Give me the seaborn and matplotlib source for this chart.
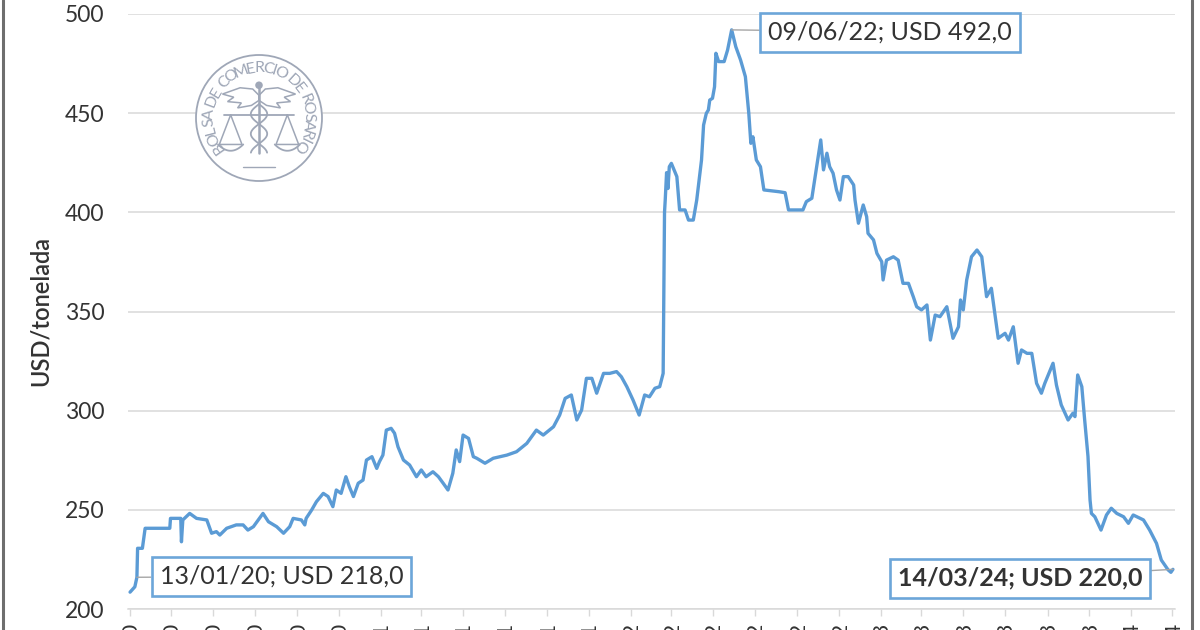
import numpy as np
import pandas as pd
import matplotlib
matplotlib.use("Agg")
import matplotlib.pyplot as plt
import matplotlib.dates as mdates
from matplotlib.patches import Circle, Polygon
from matplotlib.lines import Line2D
import seaborn as sns

# ---------------- data ----------------
dates = [
    "2020-01-13", "2020-01-20", "2020-01-23", "2020-01-24", "2020-01-31", "2020-02-04",
    "2020-03-11", "2020-03-12", "2020-03-27", "2020-03-28", "2020-03-30", "2020-04-09",
    "2020-04-19", "2020-05-04", "2020-05-11", "2020-05-18", "2020-05-23", "2020-06-02",
    "2020-06-16", "2020-06-26", "2020-07-03", "2020-07-11", "2020-07-25", "2020-08-02",
    "2020-08-14", "2020-08-24", "2020-09-02", "2020-09-07", "2020-09-19", "2020-09-24",
    "2020-09-26", "2020-10-04", "2020-10-11", "2020-10-21", "2020-10-28", "2020-11-04",
    "2020-11-09", "2020-11-16", "2020-11-23", "2020-11-28", "2020-12-04", "2020-12-11",
    "2020-12-18", "2020-12-23", "2020-12-31",
    "2021-01-07", "2021-01-11", "2021-01-16", "2021-01-21", "2021-01-28", "2021-02-02",
    "2021-02-07", "2021-02-15", "2021-02-24", "2021-03-06", "2021-03-13", "2021-03-20",
    "2021-03-30", "2021-04-07", "2021-04-14", "2021-04-21", "2021-04-28", "2021-05-03",
    "2021-05-08", "2021-05-13", "2021-05-21", "2021-05-28", "2021-06-02", "2021-06-14",
    "2021-06-26", "2021-07-16", "2021-07-30", "2021-08-14", "2021-08-28", "2021-09-07",
    "2021-09-22", "2021-10-01", "2021-10-09", "2021-10-18", "2021-10-26", "2021-11-02",
    "2021-11-09", "2021-11-17", "2021-11-24", "2021-12-04", "2021-12-13", "2021-12-23",
    "2021-12-30",
    "2022-01-07", "2022-01-16", "2022-01-25", "2022-02-02", "2022-02-09", "2022-02-17",
    "2022-02-24", "2022-03-01", "2022-03-03", "2022-03-04", "2022-03-06", "2022-03-08",
    "2022-03-10", "2022-03-13", "2022-03-21", "2022-03-25", "2022-04-02", "2022-04-07",
    "2022-04-14", "2022-04-19", "2022-04-26", "2022-04-29", "2022-05-03", "2022-05-06",
    "2022-05-08", "2022-05-12", "2022-05-15", "2022-05-17", "2022-05-21", "2022-05-29",
    "2022-06-03", "2022-06-09", "2022-06-15", "2022-06-22", "2022-06-29", "2022-07-04",
    "2022-07-07", "2022-07-10", "2022-07-15", "2022-07-21", "2022-07-26", "2022-08-17",
    "2022-08-26", "2022-08-31", "2022-09-21", "2022-09-26", "2022-10-04", "2022-10-11",
    "2022-10-17", "2022-10-21", "2022-10-26", "2022-10-30", "2022-11-04", "2022-11-09",
    "2022-11-14", "2022-11-19", "2022-11-26", "2022-12-04", "2022-12-06", "2022-12-11",
    "2022-12-18", "2022-12-23", "2022-12-25",
    "2023-01-02", "2023-01-07", "2023-01-14", "2023-01-16", "2023-01-21", "2023-01-31",
    "2023-02-07", "2023-02-14", "2023-02-22", "2023-03-01", "2023-03-06", "2023-03-13",
    "2023-03-21", "2023-03-26", "2023-04-02", "2023-04-09", "2023-04-19", "2023-04-28",
    "2023-05-06", "2023-05-09", "2023-05-13", "2023-05-18", "2023-05-25", "2023-06-02",
    "2023-06-09", "2023-06-16", "2023-06-23", "2023-06-26", "2023-07-03", "2023-07-13",
    "2023-07-18", "2023-07-25", "2023-08-01", "2023-08-06", "2023-08-14", "2023-08-21",
    "2023-08-28", "2023-09-04", "2023-09-09", "2023-09-14", "2023-09-21", "2023-09-26",
    "2023-10-03", "2023-10-13", "2023-10-20", "2023-10-23", "2023-10-27", "2023-11-02",
    "2023-11-06", "2023-11-11", "2023-11-14", "2023-11-16", "2023-11-21", "2023-11-30",
    "2023-12-08", "2023-12-15", "2023-12-23",
    "2024-01-02", "2024-01-09", "2024-01-16", "2024-01-31", "2024-02-09", "2024-02-19",
    "2024-02-26", "2024-03-07", "2024-03-11", "2024-03-14",
]
prices = [
    208.5, 211.2, 216.0, 230.6, 230.6, 240.7,
    240.7, 245.7, 245.7, 233.9, 244.9, 248.2,
    245.7, 244.9, 238.2, 239.0, 237.3, 240.7,
    242.4, 242.4, 239.8, 241.5, 248.2, 244.0,
    241.5, 238.2, 241.5, 245.7, 244.9, 242.4,
    245.7, 249.9, 254.1, 258.3, 256.7, 251.6,
    260.0, 258.3, 266.7, 261.7, 256.7, 263.4,
    265.0, 275.1, 276.8,
    270.9, 274.3, 277.6, 290.2, 291.1, 288.6,
    281.8, 275.1, 272.6, 266.7, 270.1, 266.7,
    269.2, 266.7, 263.4, 260.0, 268.4, 280.2,
    274.3, 287.7, 286.0, 276.8, 276.0, 273.5,
    276.0, 277.6, 279.3, 283.5, 290.2, 287.7,
    291.9, 297.8, 306.2, 307.9, 295.3, 300.3,
    316.3, 316.3, 308.8, 318.8, 318.8, 319.7,
    317.1,
    312.1, 305.4, 297.8, 307.9, 307.0, 311.3,
    312.1, 318.8, 400.0, 406.0, 420.0, 412.0,
    423.0, 424.7, 418.0, 401.2, 401.2, 396.1,
    396.1, 406.2, 426.4, 444.0, 449.9, 451.6,
    456.6, 457.5, 463.3, 480.2, 476.0, 476.0,
    481.8, 492.0, 483.5, 476.8, 468.4, 449.9,
    434.8, 438.1, 426.4, 423.0, 411.3, 410.4,
    409.9, 401.2, 401.2, 405.4, 407.1, 423.0,
    436.5, 421.4, 429.8, 423.0, 419.7, 411.3,
    406.2, 418.0, 418.0, 413.8, 406.2, 394.5,
    403.7, 397.8, 389.4,
    386.1, 379.3, 375.1, 365.9, 375.9, 377.6,
    375.9, 364.2, 364.2, 357.5, 352.4, 350.8,
    353.3, 335.6, 348.2, 347.4, 352.4, 336.5,
    342.3, 355.8, 350.8, 365.9, 377.6, 381.0,
    377.6, 357.5, 361.7, 354.1, 336.5, 339.0,
    335.6, 342.3, 323.9, 330.6, 328.9, 328.9,
    313.8, 308.8, 313.8, 318.0, 323.9, 312.9,
    302.9, 295.3, 298.7, 297.0, 318.0, 312.1,
    296.0, 277.0, 255.0, 248.2, 246.5, 239.8,
    247.4, 250.8, 248.2,
    246.5, 243.2, 247.4, 244.9, 239.8, 233.1,
    224.7, 219.7, 218.5, 220.0,
]
y_ticks = [200, 250, 300, 350, 400, 450, 500]
tick_dates = pd.date_range("2020-01-13", "2024-03-13", freq=pd.DateOffset(months=2))
ann_dates = ["2020-01-23", "2022-06-09", "2024-03-14"]
ann_values = [216.0, 492.0, 220.0]
ann_labels = ["13/01/20; USD 218,0", "09/06/22; USD 492,0", "14/03/24; USD 220,0"]
ann_bold = [False, False, True]
ann_pos_px = [(281.5, 53.5), (890, 598), (1020, 52)]   # box centres in figure pixels
y_label = "USD/tonelada"
logo_text = "BOLSA DE COMERCIO DE ROSARIO"

# ---------------- styling ----------------
sns.set_theme(style="white")
plt.rcParams['font.family'] = ['Lato', 'DejaVu Sans']

LINE_C = "#5B9BD5"
BOX_C = "#6CA6D9"
TXT_C = "#333333"
GRID_C = "#D9D9D9"
LOGO_C = "#9FA7B7"

W, H = 1200, 630
fig = plt.figure(figsize=(W / 100, H / 100), dpi=100)
fig.patch.set_facecolor("white")
ax = fig.add_axes([128 / W, 1 - 609 / H, (1175 - 128) / W, (609 - 14) / H])

df = pd.DataFrame({"fecha": pd.to_datetime(dates), "precio": prices})
sns.lineplot(data=df, x="fecha", y="precio", ax=ax, color=LINE_C,
             linewidth=2.4, zorder=3)

ax.set_ylim(200, 500)
ax.set_yticks(y_ticks)
ax.set_xlim(pd.Timestamp("2020-01-10"), pd.Timestamp("2024-03-17"))
ax.grid(axis="y", color=GRID_C, linewidth=1.1)
ax.grid(axis="x", visible=False)
for s in ["top", "right", "left"]:
    ax.spines[s].set_visible(False)
ax.spines["bottom"].set_color(GRID_C)
ax.spines["bottom"].set_linewidth(1.1)

ax.set_xticks(tick_dates)
ax.set_xticklabels([d.strftime("%d/%m/%y") for d in tick_dates], rotation=90)
ax.tick_params(axis="x", bottom=True, length=5, width=1, color=GRID_C, pad=4,
               labelsize=16, labelcolor=TXT_C, direction="out")
ax.tick_params(axis="y", left=False, length=0, pad=17, labelsize=16.5,
               labelcolor=TXT_C)
ax.set_xlabel("")
ax.set_ylabel("")

fig.text(40 / W, 1 - 311 / H, y_label, rotation=90, ha="center", va="center",
         fontsize=17, fontweight="semibold", color=TXT_C)

# annotations
for d, v, lab, pos, bold in zip(ann_dates, ann_values, ann_labels, ann_pos_px, ann_bold):
    ax.annotate(lab, xy=(mdates.date2num(pd.Timestamp(d)), v), xytext=pos,
                textcoords="figure pixels", ha="center", va="center",
                fontsize=18, fontweight="bold" if bold else "normal", color=TXT_C,
                bbox=dict(boxstyle="square,pad=0.32", fc="white", ec=BOX_C, lw=1.9),
                arrowprops=dict(arrowstyle="-", color="#A6A6A6", lw=1,
                                shrinkA=0, shrinkB=0),
                zorder=6, annotation_clip=False)

# screenshot borders
fig.add_artist(Line2D([2.5 / W, 2.5 / W], [0, 1], color="#6E6E6E", lw=2.2,
                      transform=fig.transFigure))
fig.add_artist(Line2D([1192 / W, 1192 / W], [0, 1], color="#6E6E6E", lw=2.2,
                      transform=fig.transFigure))

# ---------------- logo (seal) ----------------
cx, cy, R = 259, 118, 63
lax = fig.add_axes([(cx - R * 1.05) / W, 1 - (cy + R * 1.05) / H,
                    2.1 * R / W, 2.1 * R / H])
lax.set_xlim(-1.05, 1.05)
lax.set_ylim(-1.05, 1.05)
lax.axis("off")
lax.add_patch(Circle((0, 0), 1.0, facecolor="white", edgecolor=LOGO_C, lw=1.3))

# letters spaced along the ring by approximate glyph width
rel_w = {" ": 0.45, "I": 0.38, "L": 0.75, "S": 0.8, "E": 0.8, "A": 0.9, "B": 0.85,
         "D": 0.95, "R": 0.88, "C": 0.92, "O": 1.0, "M": 1.12}
widths = np.array([rel_w.get(c, 0.9) for c in logo_text])
edges = np.concatenate([[0], np.cumsum(widths)])
centers = (edges[:-1] + edges[1:]) / 2 / edges[-1]
a_start, a_end = 220, -40
for ch, f in zip(logo_text, centers):
    a = a_start + (a_end - a_start) * f
    r = 0.79
    lax.text(r * np.cos(np.radians(a)), r * np.sin(np.radians(a)), ch,
             rotation=a - 90, ha="center", va="center", rotation_mode="anchor",
             fontsize=11.5, color=LOGO_C)
# caduceus staff
lax.plot([0, 0], [0.50, -0.55], color=LOGO_C, lw=1.8)
lax.add_patch(Circle((0, 0.52), 0.06, facecolor=LOGO_C, edgecolor="none"))
# wings
lw_pts = [(0, 0.36), (-0.10, 0.46), (-0.30, 0.48), (-0.58, 0.38), (-0.40, 0.33),
          (-0.50, 0.26), (-0.28, 0.24), (-0.34, 0.16), (-0.12, 0.20), (0, 0.28)]
lax.add_patch(Polygon(lw_pts, closed=True, facecolor="white", edgecolor=LOGO_C, lw=1.1))
lax.add_patch(Polygon([(-x, y) for x, y in lw_pts], closed=True, facecolor="white",
                      edgecolor=LOGO_C, lw=1.1))
# snakes
ts = np.linspace(0.22, -0.55, 60)
lax.plot(0.13 * np.sin((ts - 0.22) * 10), ts, color=LOGO_C, lw=1.3)
lax.plot(-0.13 * np.sin((ts - 0.22) * 10), ts, color=LOGO_C, lw=1.3)
# scales
lax.plot([-0.55, 0.55], [0.05, 0.05], color=LOGO_C, lw=1.3)
for sx in (-0.45, 0.45):
    lax.plot([sx, sx - 0.18, sx + 0.18, sx], [0.05, -0.42, -0.42, 0.05],
             color=LOGO_C, lw=1.1)
    pan = np.linspace(-0.2, 0.2, 20)
    lax.plot(sx + pan, -0.42 - 0.1 * (1 - (pan / 0.2) ** 2), color=LOGO_C, lw=1.3)
lax.plot([-0.25, 0.25], [-0.78, -0.78], color=LOGO_C, lw=1.0)

fig.savefig("out.png", dpi=100, facecolor="white")
